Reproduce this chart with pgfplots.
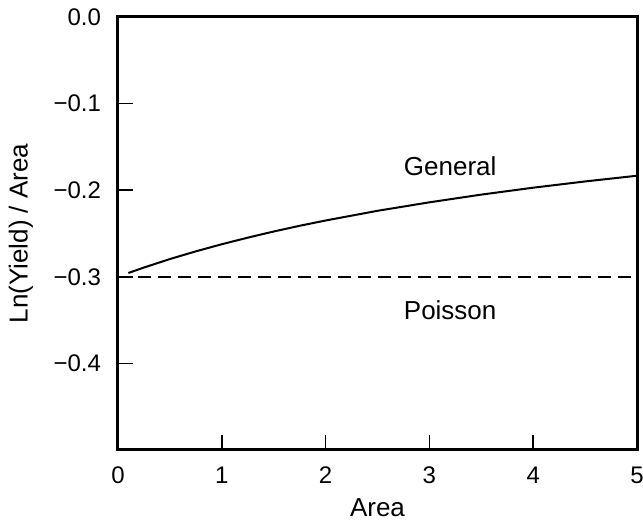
\documentclass[border=0pt]{standalone}
\usepackage{fontspec}
\setmainfont{Liberation Sans}
\usepackage{pgfplots}
\pgfplotsset{compat=1.18}

\begin{document}
\begin{tikzpicture}
\begin{axis}[
  scale only axis,
  width=259.5pt, height=216.5pt,
  xmin=0, xmax=5, ymin=-0.5, ymax=0,
  axis line style={line width=1.5pt},
  tick align=inside,
  xtick pos=bottom, ytick pos=left,
  major tick length=7.5pt,
  tick style={line width=0.8pt, black},
  xtick={0,1,2,3,4,5},
  xticklabels={0,1,2,3,4,5},
  ytick={0,-0.1,-0.2,-0.3,-0.4},
  yticklabels={0.0,−0.1,−0.2,−0.3,−0.4},
  ticklabel style={font=\fontsize{12}{14}\selectfont},
  xticklabel style={yshift=-5pt},
  yticklabel style={xshift=-5pt},
  xlabel={Area},
  ylabel={Ln(Yield) / Area},
  label style={font=\fontsize{13}{15}\selectfont},
  xlabel style={at={(axis description cs:0.5,-0.134)}, anchor=center},
  ylabel style={at={(axis description cs:-0.187,0.5)}, anchor=center},
  clip=false,
]
% general (clustered) defect model
\addplot[black, line width=1pt] coordinates {
  (0.1,-0.2956) (0.25,-0.2893) (0.5,-0.2795) (0.75,-0.2706) (1,-0.2624)
  (1.25,-0.2548) (1.5,-0.2477) (1.75,-0.2411) (2,-0.2350) (2.5,-0.2238)
  (3,-0.2140) (3.5,-0.2051) (4,-0.1971) (4.5,-0.1899) (5,-0.1833)
};
% Poisson model: constant
\addplot[black, line width=0.8pt, dash pattern=on 6.5pt off 3.5pt] coordinates {
  (0,-0.3) (5,-0.3)
};
\node[font=\fontsize{13}{15}\selectfont] at (axis cs:3.2,-0.172) {General};
\node[font=\fontsize{13}{15}\selectfont] at (axis cs:3.2,-0.339) {Poisson};
\end{axis}
\pgfresetboundingbox
\useasboundingbox (-59pt,-37pt) rectangle (262.5pt,225pt);
\end{tikzpicture}
\end{document}
